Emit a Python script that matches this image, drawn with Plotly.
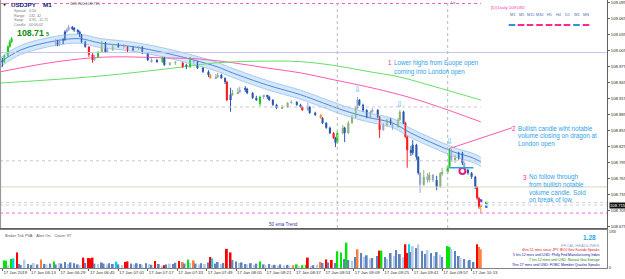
import plotly.graph_objects as go

# ---------------- DATA ----------------
candle_time = ["05:58","05:59","06:01","06:02","06:03","06:27","06:28","06:29","06:31","06:32",
               "06:33","06:34","06:36","06:37","06:39","06:40","06:41","06:43","06:45","06:47",
               "06:48","06:50","06:52","06:54","06:55","06:58","07:01","07:04","07:06","07:09",
               "07:12","07:14","07:17","07:19","07:22","07:25","07:26","07:29","07:32","07:36",
               "07:38","07:40","07:42","07:44","07:47","07:50","07:51","07:54","07:55","07:57",
               "07:59","08:00","08:02","08:03","08:06","08:07","08:10","08:11","08:14","08:16",
               "08:18","08:20","08:22","08:23","08:25","08:27","08:30","08:33","08:35","08:38",
               "08:40","08:41","08:44","08:45","08:48","08:51","08:52","08:54","08:56","08:58",
               "08:59","09:00","09:03","09:04","09:06","09:08","09:10","09:11","09:12","09:14",
               "09:16","09:18","09:19","09:22","09:23","09:25","09:27","09:29","09:30","09:33",
               "09:34","09:36","09:37","09:38","09:40","09:41","09:43","09:44","09:45","09:47",
               "09:49","09:50","09:52","09:54","09:56","09:57","10:00","10:01","10:02","10:04",
               "10:06","10:08","10:09","10:11","10:13","10:15","10:16","10:17","10:18"]
candle_open = [108.988,108.984,108.996,109.013,109.022,109.018,109.022,109.016,109.024,109.026,
               109.041,109.044,109.050,109.048,109.044,109.041,109.035,109.022,109.013,108.998,
               108.988,108.994,109.003,109.020,109.003,109.007,109.013,109.016,109.013,109.007,
               109.011,109.013,109.001,108.988,108.984,108.984,108.992,108.979,108.983,108.983,
               108.975,108.975,108.988,108.984,108.973,108.966,108.960,108.954,108.956,108.960,
               108.954,108.947,108.913,108.923,108.926,108.928,108.932,108.934,108.926,108.917,
               108.906,108.919,108.921,108.919,108.913,108.904,108.898,108.900,108.908,108.909,
               108.904,108.900,108.894,108.900,108.889,108.885,108.879,108.870,108.861,108.851,
               108.842,108.833,108.851,108.861,108.851,108.870,108.881,108.898,108.913,108.904,
               108.894,108.881,108.891,108.894,108.881,108.857,108.866,108.876,108.870,108.863,
               108.876,108.891,108.870,108.844,108.819,108.814,108.829,108.806,108.776,108.754,
               108.769,108.763,108.773,108.763,108.750,108.776,108.778,108.788,108.819,108.801,
               108.804,108.814,108.795,108.782,108.776,108.769,108.750,108.729,108.713]
candle_high = [108.992,108.998,109.016,109.026,109.031,109.028,109.026,109.028,109.029,109.044,
               109.048,109.054,109.052,109.050,109.046,109.043,109.037,109.024,109.014,109.001,
               108.998,109.005,109.024,109.022,109.011,109.018,109.020,109.018,109.014,109.014,
               109.014,109.014,109.003,108.992,108.990,108.994,108.994,108.984,108.986,108.984,
               108.981,108.994,108.992,108.986,108.975,108.969,108.962,108.962,108.964,108.962,
               108.956,108.949,108.936,108.932,108.936,108.938,108.939,108.936,108.928,108.921,
               108.921,108.923,108.923,108.921,108.915,108.906,108.904,108.909,108.913,108.911,
               108.906,108.902,108.908,108.902,108.891,108.887,108.881,108.872,108.863,108.853,
               108.844,108.855,108.866,108.863,108.874,108.885,108.902,108.919,108.915,108.906,
               108.896,108.893,108.898,108.896,108.883,108.870,108.878,108.879,108.872,108.879,
               108.894,108.893,108.872,108.846,108.827,108.838,108.831,108.808,108.778,108.782,
               108.776,108.778,108.774,108.771,108.778,108.786,108.791,108.823,108.821,108.810,
               108.816,108.816,108.797,108.784,108.778,108.771,108.752,108.731,108.718]
candle_low = [108.975,108.983,108.994,109.011,109.020,109.014,109.014,109.014,109.018,109.024,
              109.039,109.043,109.044,109.041,109.037,109.031,109.020,109.011,108.994,108.983,
              108.986,108.992,109.001,109.001,109.001,109.005,109.011,109.009,109.003,109.005,
              109.007,108.999,108.986,108.983,108.983,108.983,108.977,108.977,108.979,108.973,
              108.971,108.973,108.981,108.971,108.964,108.956,108.953,108.953,108.954,108.953,
              108.943,108.911,108.891,108.921,108.924,108.926,108.928,108.924,108.915,108.911,
              108.902,108.915,108.915,108.911,108.902,108.896,108.896,108.898,108.906,108.902,
              108.898,108.893,108.893,108.887,108.883,108.878,108.868,108.859,108.849,108.840,
              108.825,108.831,108.848,108.834,108.849,108.868,108.879,108.896,108.902,108.891,
              108.879,108.878,108.889,108.879,108.842,108.855,108.863,108.866,108.857,108.861,
              108.874,108.868,108.842,108.786,108.808,108.810,108.801,108.773,108.739,108.752,
              108.758,108.759,108.759,108.744,108.748,108.771,108.774,108.786,108.797,108.795,
              108.801,108.791,108.778,108.773,108.765,108.746,108.726,108.709,108.701]
candle_close = [108.984,108.996,109.013,109.022,109.028,109.022,109.016,109.024,109.026,109.041,
                109.044,109.050,109.048,109.044,109.041,109.035,109.022,109.013,108.998,108.988,
                108.994,109.003,109.020,109.003,109.007,109.013,109.016,109.013,109.007,109.011,
                109.013,109.001,108.988,108.984,108.988,108.992,108.979,108.983,108.984,108.975,
                108.977,108.988,108.984,108.973,108.966,108.960,108.954,108.956,108.960,108.954,
                108.947,108.913,108.923,108.926,108.928,108.932,108.934,108.926,108.917,108.913,
                108.919,108.921,108.919,108.913,108.904,108.898,108.900,108.908,108.909,108.904,
                108.900,108.894,108.900,108.889,108.885,108.879,108.870,108.861,108.851,108.842,
                108.833,108.851,108.861,108.851,108.870,108.881,108.898,108.913,108.904,108.894,
                108.881,108.891,108.894,108.881,108.857,108.866,108.876,108.870,108.863,108.876,
                108.891,108.870,108.844,108.819,108.814,108.829,108.806,108.776,108.754,108.769,
                108.763,108.773,108.763,108.750,108.776,108.778,108.788,108.819,108.801,108.804,
                108.814,108.795,108.782,108.776,108.769,108.750,108.729,108.713,108.715]
candle_kind = ["b","g","g","g","g","l","b","l","b","b",
               "l","l","b","b","b","b","b","b","r","r",
               "l","g","v","b","l","v","b","l","r","b",
               "v","b","b","l","b","g","b","l","v","r",
               "b","g","l","b","b","b","o","l","v","b",
               "b","r","b","v","v","l","b","b","b","b",
               "g","l","b","b","b","b","v","v","l","b",
               "b","r","l","b","b","o","b","b","b","r",
               "b","g","v","b","v","v","v","l","b","b",
               "b","l","l","b","r","l","v","b","l","v",
               "v","b","r","r","b","b","b","b","l","v",
               "l","v","l","b","v","v","g","g","l","v",
               "b","b","l","b","b","b","r","r","o"]

vol_time = ["05:59","06:00","06:01","06:03","06:04","06:06","06:07","06:08","06:10","06:12",
            "06:14","06:15","06:17","06:19","06:21","06:22","06:24","06:26","06:27","06:29",
            "06:30","06:32","06:34","06:35","06:37","06:39","06:40","06:42","06:43","06:45",
            "06:46","06:47","06:48","06:50","06:52","06:53","06:55","06:56","06:58","07:00",
            "07:01","07:03","07:05","07:06","07:08","07:10","07:11","07:13","07:14","07:16",
            "07:18","07:19","07:21","07:23","07:25","07:26","07:27","07:29","07:31","07:32",
            "07:34","07:36","07:37","07:39","07:40","07:42","07:43","07:45","07:46","07:48",
            "07:50","07:51","07:52","07:54","07:55","07:57","07:58","08:00","08:02","08:03",
            "08:05","08:07","08:08","08:10","08:11","08:13","08:15","08:16","08:18","08:20",
            "08:21","08:23","08:25","08:26","08:28","08:29","08:31","08:33","08:34","08:36",
            "08:38","08:39","08:41","08:43","08:44","08:46","08:47","08:49","08:51","08:52",
            "08:54","08:55","08:57","08:59","09:00","09:02","09:04","09:05","09:06","09:08",
            "09:10","09:11","09:13","09:15","09:16","09:18","09:19","09:22","09:23","09:24",
            "09:26","09:27","09:29","09:31","09:32","09:34","09:36","09:37","09:38","09:39",
            "09:40","09:41","09:43","09:44","09:46","09:48","09:49","09:51","09:53","09:54",
            "09:56","09:57","10:00","10:01","10:02","10:04","10:06","10:07","10:09","10:11",
            "10:12","10:14","10:16","10:17","10:18"]
vol_value = [38,36,12,45,48,78,20,15,42,20,
             16,25,18,42,20,18,22,32,18,25,
             22,30,20,28,24,18,14,52,25,50,
             48,52,22,20,28,22,18,24,20,32,
             18,15,30,33,22,18,24,20,14,24,
             20,16,35,20,12,14,18,22,20,26,
             35,30,22,42,25,38,22,18,24,20,
             28,55,48,22,30,20,25,96,78,40,
             32,25,28,20,18,24,16,22,32,18,
             14,20,14,16,12,18,14,16,12,14,
             18,10,14,16,52,12,14,18,30,25,
             43,28,40,25,84,78,45,127,40,35,
             55,94,75,57,64,48,50,60,87,87,
             55,45,75,60,90,70,55,119,75,119,
             80,110,100,119,85,70,90,75,60,80,
             65,55,110,105,96,85,60,50,45,35,
             40,30,119,105,94]
vol_kind = ["g","g","l","g","c","r","b","b","l","b",
            "b","l","b","o","b","l","b","g","b","l",
            "b","b","l","b","b","b","l","r","b","r",
            "r","r","b","l","b","b","l","b","b","c",
            "b","l","r","r","b","l","b","b","l","b",
            "l","b","r","b","l","r","b","l","b","b",
            "r","o","b","g","l","o","b","l","b","l",
            "b","r","c","b","b","l","b","r","r","b",
            "b","l","b","b","l","b","l","b","g","b",
            "l","b","l","b","l","b","l","b","l","o",
            "g","l","g","g","r","l","b","l","o","b",
            "r","b","r","b","g","g","b","g","b","l",
            "b","o","b","l","b","l","b","b","r","g",
            "b","l","b","l","b","b","l","r","r","c",
            "b","l","b","l","b","b","l","b","l","b",
            "l","b","g","g","l","b","b","l","b","l",
            "b","b","r","o","o"]

band_time = ["05:57","06:08","06:27","06:40","06:51","07:09","07:27","07:42","07:55","08:03",
             "08:22","08:40","08:52","09:03","09:16","09:30","09:40","09:52","10:03","10:14","10:18"]
band_mid = [108.984,109.007,109.024,109.028,109.020,109.013,109.001,108.988,108.975,108.964,
            108.941,108.923,108.908,108.894,108.881,108.870,108.851,108.832,108.816,108.804,108.797]
band_half = 0.0085

pink_time = ["05:57","06:24","06:46","07:00","07:27","07:45","08:03","08:22","08:40","08:58",
             "09:16","09:34","09:52","10:18"]
pink_val = [108.966,108.983,108.992,108.994,108.992,108.990,108.983,108.973,108.964,108.951,
            108.938,108.923,108.904,108.872]

green_time = ["05:57","06:51","07:36","07:55","08:22","08:40","08:58","09:16","09:34","09:52","10:18"]
green_val = [108.945,108.958,108.975,108.983,108.986,108.985,108.978,108.967,108.956,108.939,108.913]

price_ticks = [109.095,109.065,109.035,109.005,108.975,108.945,108.915,108.885,108.855,
               108.825,108.795,108.765,108.735,108.705,108.675]
current_price = 108.715
time_ticks = ["05:58","06:13","06:29","06:45","07:01","07:17","07:33","07:49","08:05","08:21",
              "08:37","08:53","09:09","09:25","09:41","09:57","10:13"]
time_labels = ["17 Jan 2019","17 Jan 06:13","17 Jan 06:29","17 Jan 06:45","17 Jan 07:01",
               "17 Jan 07:17","17 Jan 07:33","17 Jan 07:49","17 Jan 08:05","17 Jan 08:21",
               "17 Jan 08:37","17 Jan 08:53","17 Jan 09:09","17 Jan 09:25","17 Jan 09:41",
               "17 Jan 09:57","17 Jan 10:13"]
vol_ticks = [0, 183]

daily_level = 109.094
levels_full = [109.002, 108.750]
dotted_levels_partial = [108.900, 108.799]
dotted_levels_full = [108.721, 108.716]
magenta_level = 108.701
session_lines = ["09:00", "10:00"]
arrow_time = ["09:11", "09:34", "10:01"]
arrow_price = [108.933, 108.905, 108.835]
break_level = 108.786
break_start, break_end = "10:01", "10:14"
circle_time, circle_price = "10:08", 108.780
note2_line = (("10:01", 108.822), ("10:35", 108.861))

headlines = [("4hrs 51 mins since JPY: BOJ Gov Kuroda Speaks", "#e01010"),
             ("5 hrs 12 mins until USD: Philly Fed Manufacturing Index", "#10109a"),
             ("7 hrs 12 mins until USD: Natural Gas Storage", "#108010"),
             ("7hrs 27 mins until USD: FOMC Member Quarles Speaks", "#10109a")]

# ---------------- HELPERS ----------------
def tm(s):
    h, m = s.split(":")
    return int(h) * 60 + int(m)

PLOT_W, PLOT_H = 607, 268
def px(x):
    return x / PLOT_W
def py(y):
    return 1 - y / PLOT_H

FONT = "Liberation Sans"
candle_colors = {"b": "#2c58b0", "l": "#98a4d6", "g": "#22c822", "r": "#ff1c1c",
                 "o": "#ff8a3c", "v": "#8db37c"}
vol_colors = {"b": "#5f84bd", "l": "#b7cbe8", "g": "#00e400", "r": "#ff0000",
              "o": "#ff7f40", "c": "#00d4ee"}

fig = go.Figure()

bt = [tm(t) for t in band_time]
up = [v + band_half for v in band_mid]
lo = [v - band_half for v in band_mid]
fig.add_trace(go.Scatter(x=bt, y=up, mode="lines", line=dict(color="#a9cbf0", width=1, shape="spline"),
                         hoverinfo="skip", showlegend=False))
fig.add_trace(go.Scatter(x=bt, y=lo, mode="lines", line=dict(color="#a9cbf0", width=1, shape="spline"),
                         fill="tonexty", fillcolor="rgba(190,218,248,0.65)", hoverinfo="skip", showlegend=False))
fig.add_trace(go.Scatter(x=bt, y=band_mid, mode="lines", line=dict(color="#4d8ad8", width=1, shape="spline"),
                         hoverinfo="skip", showlegend=False))
fig.add_trace(go.Scatter(x=[tm(t) for t in pink_time], y=pink_val, mode="lines",
                         line=dict(color="#ff5ab0", width=1, shape="spline"), showlegend=False))
fig.add_trace(go.Scatter(x=[tm(t) for t in green_time], y=green_val, mode="lines",
                         line=dict(color="#66e066", width=1, shape="spline"), showlegend=False))

ct = [tm(t) for t in candle_time]
for k, col in candle_colors.items():
    xs, ys = [], []
    for i, kk in enumerate(candle_kind):
        if kk == k:
            xs += [ct[i], ct[i], None]
            ys += [candle_low[i], candle_high[i], None]
    if xs:
        fig.add_trace(go.Scatter(x=xs, y=ys, mode="lines", line=dict(color=col, width=1),
                                 showlegend=False, hoverinfo="skip"))
bases = [min(o, c) for o, c in zip(candle_open, candle_close)]
heights = [max(abs(c - o), 0.0009) for o, c in zip(candle_open, candle_close)]
fig.add_trace(go.Bar(x=ct, y=heights, base=bases, width=1.15,
                     marker=dict(color=[candle_colors[k] for k in candle_kind], line=dict(width=0)),
                     showlegend=False))

fig.add_trace(go.Scatter(x=[tm(circle_time)], y=[circle_price], mode="markers",
                         marker=dict(symbol="circle", size=6, color="white",
                                     line=dict(color="#e0207a", width=2)), showlegend=False))
fig.add_trace(go.Scatter(x=[tm("10:18")], y=[108.724], mode="markers",
                         marker=dict(symbol="circle", size=3.5, color="#8a3ad8"), showlegend=False))
fig.add_trace(go.Scatter(x=[tm("10:21"), tm("10:21")], y=[108.720, 108.713], mode="markers",
                         marker=dict(symbol="square", size=2.5, color=["#20b040", "#2080e0"]),
                         showlegend=False))

fig.add_trace(go.Bar(x=[tm(t) for t in vol_time], y=vol_value, width=1.0,
                     marker=dict(color=[vol_colors[k] for k in vol_kind], line=dict(width=0)),
                     xaxis="x2", yaxis="y2", showlegend=False))

t0 = tm("06:13")
xr = [t0 - 30 / 1.84, t0 + 577 / 1.84]
shapes = []
shapes.append(dict(type="line", xref="x", yref="y", x0=xr[0], x1=tm("10:18"), y0=daily_level, y1=daily_level,
                   line=dict(color="#ff5ac8", width=1, dash="dot")))
shapes.append(dict(type="line", xref="paper", yref="y", x0=0, x1=1, y0=levels_full[0], y1=levels_full[0],
                   line=dict(color="#c4c4f2", width=1)))
shapes.append(dict(type="line", xref="paper", yref="y", x0=0, x1=1, y0=levels_full[1], y1=levels_full[1],
                   line=dict(color="#d8d6c4", width=1)))
for lv in dotted_levels_partial:
    shapes.append(dict(type="line", xref="x", yref="y", x0=xr[0], x1=tm("10:18"), y0=lv, y1=lv,
                       line=dict(color="#c6c6d6", width=1, dash="dot")))
for lv in dotted_levels_full:
    shapes.append(dict(type="line", xref="paper", yref="y", x0=0, x1=1, y0=lv, y1=lv,
                       line=dict(color="#d0d0d8", width=1, dash="dot")))
shapes.append(dict(type="line", xref="paper", yref="y", x0=0, x1=1, y0=magenta_level, y1=magenta_level,
                   line=dict(color="#ff66e0", width=1, dash="dot")))
for s in session_lines:
    shapes.append(dict(type="line", xref="x", yref="paper", x0=tm(s), x1=tm(s), y0=py(228), y1=1,
                       line=dict(color="#b8b8b8", width=1, dash="dot")))
shapes.append(dict(type="line", xref="x", yref="y", x0=tm(break_start), x1=tm(break_end),
                   y0=break_level, y1=break_level, line=dict(color="#2aa0e0", width=1.5)))
(a0, p0), (a1, p1) = note2_line
shapes.append(dict(type="line", xref="x", yref="y", x0=tm(a0), x1=tm(a1), y0=p0, y1=p1,
                   line=dict(color="#ff5ab0", width=1)))
shapes.append(dict(type="line", xref="paper", yref="paper", x0=0.001, x1=0.001, y0=py(228), y1=1,
                   line=dict(color="#909090", width=1)))
tf_labels = ["M1", "M5", "M15", "M30", "H1", "H4", "D1", "W1", "MN"]
tf_x = [512, 521, 530, 539.5, 549, 558, 567, 576.5, 586]
tf_col = ["#2f8ff0", "#ff2a8a", "#ff2a8a", "#ff2a8a", "#ff2a8a", "#ff2a8a", "#ff2a8a", "#2f8ff0", "#ff2a8a"]
for xx, cc in zip(tf_x, tf_col):
    shapes.append(dict(type="line", xref="paper", yref="paper", x0=px(xx - 3.3), x1=px(xx + 3.3),
                       y0=py(25), y1=py(25), line=dict(color=cc, width=2)))

ann = []
def txt(x, y, s, size, color, anchor="left", bold=False, family=FONT, yanchor="middle"):
    ann.append(dict(x=px(x), y=py(y), xref="paper", yref="paper", text=("<b>%s</b>" % s) if bold else s,
                    showarrow=False, xanchor=anchor, yanchor=yanchor,
                    font=dict(size=size, color=color, family=family)))

txt(1, 4, "▼", 4, "#333", family="DejaVu Sans")
txt(9, 4.5, "USDJPY", 6.2, "#12127a", bold=True)
txt(41, 4.5, "M1", 6.2, "#12127a", bold=True)
txt(68, 3.5, "108.700,108.715", 4, "#555")
info = [("Spread", "0.50"), ("Range", "132, 42"), ("Swap", "4.95, -11.71"), ("Candle", "00:00:02")]
for i, (a, b) in enumerate(info):
    txt(12, 11 + i * 4.6, a, 3.6, "#777")
    txt(27, 11 + i * 4.6, b, 3.6, "#777")
txt(15, 33, "108.71", 8.8, "#118a11", bold=True)
txt(44, 34, "5", 5.5, "#118a11", bold=True)

txt(489, 7.5, "[D] Daily 109.092", 4.4, "#ff30a8")
for lab, xx in zip(tf_labels, tf_x):
    txt(xx, 15, lab, 3.8, "#4a6ab0", anchor="center")
txt(448.5, 3, "Le", 4, "#555")

note_blue = "#33a2e6"
note_pink = "#ff2a8a"
txt(386, 63, "1", 6.3, note_pink)
txt(392, 63, "Lower highs from Euope open", 6.3, note_blue)
txt(392, 71.5, "coming into London open", 6.3, note_blue)
txt(510, 128.5, "2", 6.3, note_pink)
for i, s in enumerate(["Bullish candle wiht notable", "volume closing on dragon at", "London open"]):
    txt(516, 128.5 + i * 7.6, s, 6.3, note_blue)
txt(521, 177, "3", 6.3, note_pink)
for i, s in enumerate(["No follow through", "from bullish notable", "volume candle. Sold", "on break of low"]):
    txt(527, 177 + i * 7.5, s, 6.3, note_blue)
txt(283, 224.5, "50 ema Trend", 4.6, "#3838a8", anchor="center")

for t, p in zip(arrow_time, arrow_price):
    ann.append(dict(x=tm(t), y=p, xref="x", yref="y", text="⇩", showarrow=False,
                    font=dict(size=8, color="#4aaaf0", family="DejaVu Sans"), yanchor="middle"))

ann.append(dict(x=1, y=current_price, xref="paper", yref="y", text="108.715", showarrow=False,
                xanchor="left", xshift=2, yanchor="middle", bgcolor="#111", borderpad=0,
                font=dict(size=4.2, color="white", family=FONT)))

txt(3, 235.5, "Broker Tick PVA:   Alert On.   Count: 97", 3.8, "#555")
txt(598, 237.5, "1.28", 6.5, "#1ea6e8", anchor="right", bold=True)
txt(602, 245, "FFCAL HEADLINES:", 4.2, "#8ea4cc", anchor="right")
for i, (s, c) in enumerate(headlines):
    txt(602, 250 + i * 5, s, 3.5, c, anchor="right")

fig.update_layout(
    template="none",
    width=625, height=279,
    margin=dict(l=0, r=18, t=0, b=11, autoexpand=False),
    paper_bgcolor="white", plot_bgcolor="white",
    barmode="overlay", showlegend=False,
    shapes=shapes, annotations=ann,
    font=dict(family=FONT),
    xaxis=dict(domain=[0, 1], range=xr, anchor="y", showticklabels=False, showgrid=False,
               zeroline=False, showline=True, linecolor="#606060", linewidth=1, ticks="",
               automargin=False),
    yaxis=dict(domain=[40 / 268, 1], range=[108.673, 109.1006], side="right", anchor="x",
               tickvals=price_ticks, ticktext=["%.3f" % v for v in price_ticks],
               tickfont=dict(size=4.2, color="#222", family=FONT), ticks="outside", ticklen=2,
               ticklabelstandoff=0,
               tickcolor="#606060", showgrid=False, zeroline=False, showline=True,
               linecolor="#606060", linewidth=1, automargin=False),
    xaxis2=dict(domain=[0, 1], range=xr, anchor="y2", matches="x",
                tickvals=[tm(t) for t in time_ticks], ticktext=time_labels, tickangle=0,
                ticklabelposition="outside right", ticks="outside", ticklen=2, tickcolor="#606060",
                tickfont=dict(size=4.3, color="#333", family=FONT), showgrid=False, zeroline=False,
                showline=True, mirror=True, linecolor="#808080", linewidth=1, automargin=False),
    yaxis2=dict(domain=[0, 38 / 268], range=[0, 190.5], side="right", anchor="x2",
                tickvals=vol_ticks, ticktext=[str(v) for v in vol_ticks], ticklabelstandoff=0,
                tickfont=dict(size=4.2, color="#333", family=FONT), ticks="", showgrid=False,
                zeroline=False, showline=True, linecolor="#808080", linewidth=1, automargin=False),
)

fig.write_html("out.html")
